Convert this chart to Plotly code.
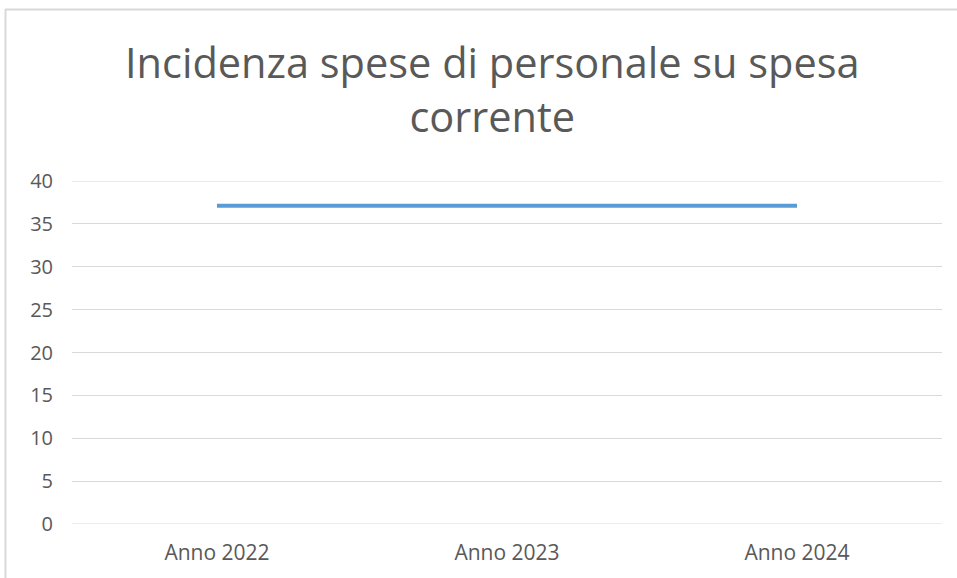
import plotly.graph_objects as go

categories = ["Anno 2022", "Anno 2023", "Anno 2024"]
values = [37.1, 37.1, 37.1]
y_ticks = [0, 5, 10, 15, 20, 25, 30, 35, 40]
title_text = "Incidenza spese di personale su spesa<br>corrente"

W, H = 957, 578
L, R, T, B = 72, 15, 181, 54
pw, ph = W - L - R, H - T - B

def px_x(x):
    return (x - L) / pw

def px_y(y):
    return 1 - (y - T) / ph

fig = go.Figure()
fig.add_trace(go.Scatter(
    x=categories, y=values, mode="lines",
    line=dict(color="#5B9BD5", width=4),
    hoverinfo="skip", showlegend=False,
))

edge_lines = [dict(type="line", xref="paper", yref="y", x0=0, x1=1,
                   y0=v, y1=v, layer="below",
                   line=dict(color="#D9D9D9", width=1))
              for v in (y_ticks[0], y_ticks[-1])]

fig.update_layout(
    width=W, height=H,
    margin=dict(l=L, r=R, t=T, b=B),
    paper_bgcolor="white", plot_bgcolor="white",
    font=dict(family="Open Sans, sans-serif", color="#595959"),
    xaxis=dict(
        type="category", range=[-0.5, 2.5],
        showgrid=False, zeroline=False, showline=False,
        ticks="", tickfont=dict(size=21, color="#595959"),
        ticklabelstandoff=14,
    ),
    yaxis=dict(
        range=[0, 40], tickvals=y_ticks,
        showgrid=True, gridcolor="#D9D9D9", gridwidth=1,
        zeroline=False, showline=False, ticks="",
        tickfont=dict(size=20, color="#595959"),
        ticklabelstandoff=18,
    ),
    annotations=[dict(
        text=title_text, xref="paper", yref="paper",
        x=px_x(492), y=px_y(89), xanchor="center", yanchor="middle",
        showarrow=False, font=dict(size=41.5, color="#595959"),
        align="center",
    )],
    shapes=edge_lines + [
        dict(type="line", xref="paper", yref="paper",
             x0=px_x(5), x1=px_x(960), y0=px_y(9.5), y1=px_y(9.5),
             line=dict(color="#D9D9D9", width=2)),
        dict(type="line", xref="paper", yref="paper",
             x0=px_x(5.5), x1=px_x(5.5), y0=px_y(9), y1=px_y(580),
             line=dict(color="#D9D9D9", width=2)),
    ],
)

fig.write_html(
    "out.html",
    config={"displayModeBar": False},
    post_script="document.body.style.margin='0';document.body.style.overflow='hidden';",
)
